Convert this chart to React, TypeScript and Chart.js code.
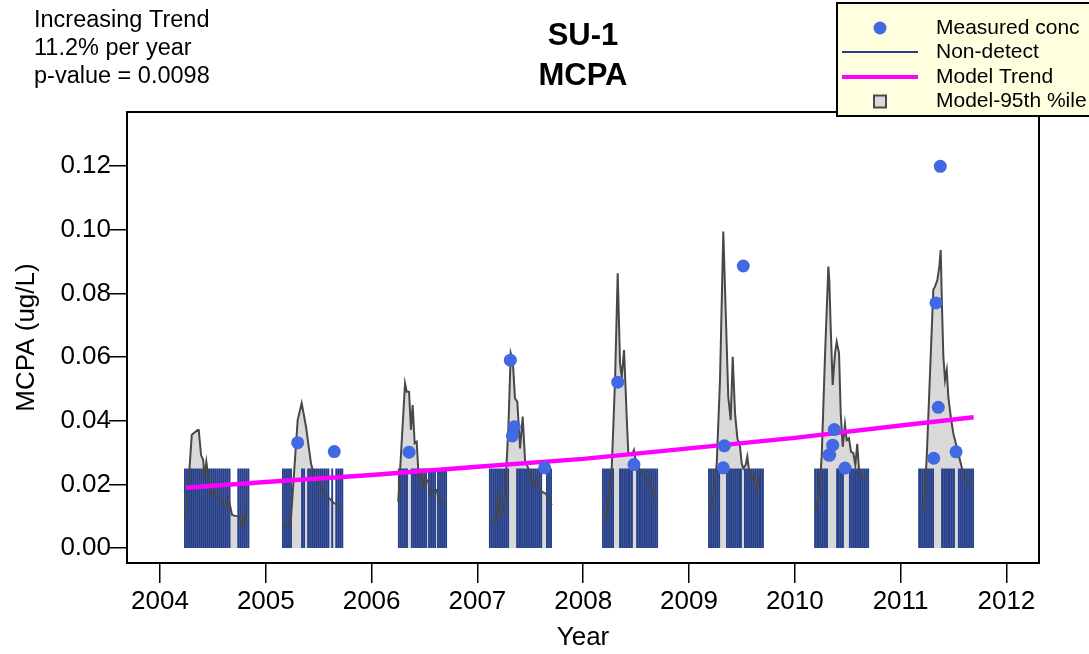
import React, { useEffect, useRef } from "react";
import { Chart, registerables } from "chart.js";

Chart.register(...registerables);

const FONT = "'Liberation Sans', Arial, Helvetica, sans-serif";

// ---- text ----
const titleLines = ["SU-1", "MCPA"];
const noteLines = ["Increasing Trend", "11.2% per year", "p-value = 0.0098"];
const legendLabels = ["Measured conc", "Non-detect", "Model Trend", "Model-95th %ile"];
const xTitle = "Year";
const yTitle = "MCPA (ug/L)";

// ---- axes ----
const xTicks = [2004, 2005, 2006, 2007, 2008, 2009, 2010, 2011, 2012];
const yTicks = [0, 0.02, 0.04, 0.06, 0.08, 0.1, 0.12];
const xMin = 2003.688;
const xMax = 2012.308;
const yMin = -0.00471;
const yMax = 0.13697;

// ---- measured concentrations ----
const measDates = [2005.301, 2005.647, 2006.354, 2007.311, 2007.330, 2007.349, 2007.636, 2008.326, 2008.480, 2009.324, 2009.334, 2009.513, 2010.322, 2010.330, 2010.358, 2010.373, 2010.474, 2011.313, 2011.334, 2011.356, 2011.375, 2011.524];
const measVals = [0.0331, 0.0303, 0.0301, 0.0590, 0.0352, 0.0381, 0.0252, 0.0521, 0.0262, 0.0252, 0.0321, 0.0886, 0.0292, 0.0292, 0.0323, 0.0372, 0.0251, 0.0282, 0.0770, 0.0442, 0.1199, 0.0302];

// ---- non-detects (reporting limit, sample day-of-year per season) ----
const ndLimit = 0.025;
const ndYears = [2004, 2005, 2006, 2007, 2008, 2009, 2010, 2011];
const nd2004 = [86, 93, 100, 107, 114, 121, 128, 135, 142, 149, 156, 163, 170, 177, 184, 191, 198, 205, 212, 219, 226, 233, 240, 270, 277, 284, 291, 298, 305];
const nd2005 = [59, 66, 73, 80, 87, 125, 132, 146, 153, 160, 167, 174, 181, 188, 195, 202, 209, 216, 229, 243, 250, 257, 264];
const nd2006 = [94, 101, 108, 115, 122, 139, 146, 153, 160, 167, 174, 181, 188, 198, 205, 212, 219, 229, 236, 243, 250, 257];
const nd2007 = [43, 50, 57, 64, 71, 78, 85, 92, 99, 106, 137, 144, 150, 157, 164, 171, 178, 185, 192, 199, 206, 213, 220, 240, 247, 254];
const nd2008 = [68, 75, 82, 89, 96, 103, 127, 134, 141, 148, 155, 161, 168, 186, 193, 199, 206, 213, 220, 227, 234, 241, 248, 255];
const nd2009 = [69, 76, 83, 90, 97, 104, 131, 138, 145, 152, 159, 166, 173, 179, 193, 200, 207, 214, 221, 228, 235, 242, 248, 255];
const nd2010 = [70, 77, 83, 90, 97, 104, 111, 146, 152, 159, 166, 190, 197, 204, 211, 218, 225, 232, 239, 246, 253];
const nd2011 = [64, 70, 77, 84, 91, 98, 105, 112, 143, 150, 157, 164, 170, 177, 184, 201, 208, 215, 222, 229, 236, 243, 250];

// ---- model 95th percentile curve, per season ----
const m2004t = [2004.246, 2004.300, 2004.309, 2004.356, 2004.366, 2004.388, 2004.409, 2004.419, 2004.438, 2004.460, 2004.482, 2004.513, 2004.536, 2004.577, 2004.614, 2004.649, 2004.681, 2004.712, 2004.750, 2004.782, 2004.803, 2004.819];
const m2004v = [0.0088, 0.0355, 0.0358, 0.0371, 0.0371, 0.0292, 0.0276, 0.0220, 0.0271, 0.0214, 0.0167, 0.0177, 0.0157, 0.0151, 0.0126, 0.0154, 0.0104, 0.0101, 0.0098, 0.0069, 0.0110, 0.0079];
const m2005t = [2005.165, 2005.198, 2005.216, 2005.235, 2005.301, 2005.339, 2005.380, 2005.427, 2005.458, 2005.506, 2005.553, 2005.600, 2005.647, 2005.680, 2005.701];
const m2005v = [0.0069, 0.0075, 0.0067, 0.0079, 0.0402, 0.0455, 0.0381, 0.0266, 0.0224, 0.0203, 0.0172, 0.0156, 0.0140, 0.0138, 0.0119];
const m2006t = [2006.252, 2006.316, 2006.332, 2006.354, 2006.372, 2006.388, 2006.407, 2006.426, 2006.441, 2006.457, 2006.473, 2006.489, 2006.505, 2006.536, 2006.559, 2006.582, 2006.615, 2006.637, 2006.678, 2006.703];
const m2006v = [0.0145, 0.0517, 0.0491, 0.0491, 0.0371, 0.0449, 0.0329, 0.0334, 0.0245, 0.0214, 0.0235, 0.0193, 0.0219, 0.0208, 0.0172, 0.0182, 0.0182, 0.0149, 0.0145, 0.0138];
const m2007t = [2007.119, 2007.176, 2007.198, 2007.214, 2007.251, 2007.292, 2007.315, 2007.334, 2007.355, 2007.377, 2007.403, 2007.428, 2007.450, 2007.481, 2007.528, 2007.554, 2007.576, 2007.608, 2007.639, 2007.670, 2007.702];
const m2007v = [0.0086, 0.0083, 0.0172, 0.0109, 0.0109, 0.0371, 0.0612, 0.0591, 0.0470, 0.0460, 0.0313, 0.0413, 0.0276, 0.0250, 0.0198, 0.0219, 0.0203, 0.0177, 0.0172, 0.0161, 0.0135];
const m2008t = [2008.197, 2008.222, 2008.269, 2008.301, 2008.326, 2008.348, 2008.364, 2008.386, 2008.411, 2008.426, 2008.458, 2008.480, 2008.499, 2008.537, 2008.575, 2008.600, 2008.631, 2008.657, 2008.679, 2008.700];
const m2008v = [0.0093, 0.0098, 0.0245, 0.0528, 0.0863, 0.0580, 0.0538, 0.0622, 0.0413, 0.0298, 0.0292, 0.0308, 0.0266, 0.0245, 0.0229, 0.0224, 0.0203, 0.0182, 0.0161, 0.0151];
const m2009t = [2009.198, 2009.229, 2009.262, 2009.293, 2009.324, 2009.371, 2009.394, 2009.413, 2009.435, 2009.457, 2009.482, 2009.498, 2009.513, 2009.536, 2009.551, 2009.567, 2009.593, 2009.614, 2009.640, 2009.662, 2009.687];
const m2009v = [0.0104, 0.0161, 0.0266, 0.0528, 0.0994, 0.0475, 0.0402, 0.0601, 0.0423, 0.0345, 0.0318, 0.0266, 0.0250, 0.0261, 0.0287, 0.0245, 0.0219, 0.0229, 0.0182, 0.0224, 0.0229];
const m2010t = [2010.191, 2010.231, 2010.254, 2010.285, 2010.317, 2010.326, 2010.339, 2010.358, 2010.380, 2010.396, 2010.418, 2010.434, 2010.453, 2010.474, 2010.490, 2010.512, 2010.531, 2010.553, 2010.572, 2010.590, 2010.607, 2010.632, 2010.663, 2010.689];
const m2010v = [0.0114, 0.0172, 0.0287, 0.0601, 0.0884, 0.0842, 0.0695, 0.0512, 0.0612, 0.0648, 0.0612, 0.0423, 0.0318, 0.0389, 0.0339, 0.0345, 0.0303, 0.0298, 0.0261, 0.0327, 0.0245, 0.0224, 0.0219, 0.0219];
const m2011t = [2011.183, 2011.221, 2011.247, 2011.278, 2011.309, 2011.325, 2011.347, 2011.366, 2011.379, 2011.391, 2011.404, 2011.420, 2011.436, 2011.451, 2011.474, 2011.498, 2011.530, 2011.561, 2011.592, 2011.630, 2011.672];
const m2011v = [0.0130, 0.0125, 0.0287, 0.0549, 0.0811, 0.0821, 0.0842, 0.0884, 0.0936, 0.0758, 0.0601, 0.0528, 0.0559, 0.0475, 0.0413, 0.0360, 0.0318, 0.0276, 0.0235, 0.0214, 0.0203];

// ---- model trend ----
const trendDates = [2004.246, 2005.0, 2006.0, 2007.0, 2008.0, 2009.0, 2010.0, 2011.0, 2011.69];
const trendVals = [0.0189, 0.0207, 0.0229, 0.0255, 0.0280, 0.0313, 0.0346, 0.0385, 0.0411];

// ---- colours ----
const C_MEAS = "#4169E1";
const C_ND = "#27408B";
const C_TREND = "#FF00FF";
const C_FILL = "#D9D9D9";
const C_CURVE = "#484848";
const C_LEGBG = "#FFFFE0";

function buildND() {
  const lists = [nd2004, nd2005, nd2006, nd2007, nd2008, nd2009, nd2010, nd2011];
  const out: any[] = [];
  lists.forEach((days, i) => {
    days.forEach((d) => {
      const t = ndYears[i] + d / 365;
      out.push({ x: t, y: 0 }, { x: t, y: ndLimit }, { x: t, y: null });
    });
  });
  return out;
}

function buildModel() {
  const ts = [m2004t, m2005t, m2006t, m2007t, m2008t, m2009t, m2010t, m2011t];
  const vs = [m2004v, m2005v, m2006v, m2007v, m2008v, m2009v, m2010v, m2011v];
  const out: any[] = [];
  ts.forEach((t, i) => {
    t.forEach((x, j) => out.push({ x, y: vs[i][j] }));
    out.push({ x: t[t.length - 1] + 0.001, y: null });
  });
  return out;
}

const decor = {
  id: "decor",
  afterDraw(chart: any) {
    const ctx = chart.ctx as CanvasRenderingContext2D;
    const a = chart.chartArea;
    ctx.save();
    // plot box
    ctx.strokeStyle = "#000";
    ctx.lineWidth = 2;
    ctx.strokeRect(a.left, a.top, a.right - a.left, a.bottom - a.top);

    // title
    ctx.fillStyle = "#000";
    ctx.textAlign = "center";
    ctx.textBaseline = "middle";
    ctx.font = `bold 31px ${FONT}`;
    const cx = (a.left + a.right) / 2;
    ctx.fillText(titleLines[0], cx, 36);
    ctx.fillText(titleLines[1], cx, 76);

    // trend note
    ctx.textAlign = "left";
    ctx.font = `23.5px ${FONT}`;
    noteLines.forEach((s, i) => ctx.fillText(s, 34, 21 + 28 * i));

    // legend
    const lx = 837, ly = 3, lw = 260, lh = 113;
    ctx.fillStyle = C_LEGBG;
    ctx.fillRect(lx, ly, lw, lh);
    ctx.strokeStyle = "#000";
    ctx.lineWidth = 2;
    ctx.strokeRect(lx, ly, lw, lh);
    const rows = [28, 52, 77, 101.5];
    // measured
    ctx.fillStyle = C_MEAS;
    ctx.beginPath();
    ctx.arc(880, rows[0], 6.5, 0, Math.PI * 2);
    ctx.fill();
    // non-detect
    ctx.strokeStyle = C_ND;
    ctx.lineWidth = 2;
    ctx.beginPath();
    ctx.moveTo(842, rows[1]);
    ctx.lineTo(918, rows[1]);
    ctx.stroke();
    // trend
    ctx.strokeStyle = C_TREND;
    ctx.lineWidth = 4;
    ctx.beginPath();
    ctx.moveTo(842, rows[2]);
    ctx.lineTo(918, rows[2]);
    ctx.stroke();
    // 95th
    ctx.fillStyle = C_FILL;
    ctx.fillRect(874, rows[3] - 6, 12, 12);
    ctx.strokeStyle = C_CURVE;
    ctx.lineWidth = 2;
    ctx.strokeRect(874, rows[3] - 6, 12, 12);
    // labels
    ctx.fillStyle = "#000";
    ctx.font = `21px ${FONT}`;
    ctx.textAlign = "left";
    legendLabels.forEach((s, i) => ctx.fillText(s, 936, rows[i]));
    ctx.restore();
  },
};

export default function App() {
  const ref = useRef<HTMLCanvasElement | null>(null);

  useEffect(() => {
    if (!ref.current) return;
    const modelData = buildModel();
    const chart = new Chart(ref.current, {
      type: "line",
      data: {
        datasets: [
          {
            label: "Model-95th %ile fill",
            data: modelData,
            borderWidth: 0,
            borderColor: "rgba(0,0,0,0)",
            backgroundColor: C_FILL,
            fill: "origin",
            pointRadius: 0,
            spanGaps: false,
            order: 5,
          } as any,
          {
            label: "Non-detect",
            data: buildND(),
            borderColor: C_ND,
            borderWidth: 1.9,
            borderCapStyle: "butt",
            fill: false,
            pointRadius: 0,
            spanGaps: false,
            order: 4,
          },
          {
            label: "Model-95th %ile",
            data: modelData,
            borderColor: C_CURVE,
            borderWidth: 2,
            fill: false,
            pointRadius: 0,
            spanGaps: false,
            order: 3,
          },
          {
            label: "Model Trend",
            data: trendDates.map((x, i) => ({ x, y: trendVals[i] })),
            borderColor: C_TREND,
            borderWidth: 4.5,
            fill: false,
            pointRadius: 0,
            order: 2,
          },
          {
            label: "Measured conc",
            data: measDates.map((x, i) => ({ x, y: measVals[i] })),
            showLine: false,
            pointRadius: 6.5,
            pointBackgroundColor: C_MEAS,
            pointBorderWidth: 0,
            backgroundColor: C_MEAS,
            borderColor: C_MEAS,
            order: 1,
          },
        ],
      },
      options: {
        animation: false,
        responsive: false,
        devicePixelRatio: 1,
        events: [],
        layout: { padding: { top: 112, right: 50, left: 0, bottom: 0 } },
        plugins: {
          legend: { display: false },
          title: { display: false },
          tooltip: { enabled: false },
        },
        scales: {
          x: {
            type: "linear",
            min: xMin,
            max: xMax,
            afterBuildTicks: (s: any) => {
              s.ticks = xTicks.map((v) => ({ value: v }));
            },
            afterFit: (s: any) => {
              s.height = 91;
            },
            grid: {
              display: true,
              drawOnChartArea: false,
              drawTicks: true,
              tickLength: 20,
              color: "#000",
              lineWidth: 1.5,
            },
            border: { display: false },
            ticks: {
              color: "#000",
              font: { family: FONT, size: 26 },
              padding: 3,
              maxRotation: 0,
              autoSkip: false,
              callback: (v: any) => String(v),
            },
            title: {
              display: true,
              text: xTitle,
              color: "#000",
              font: { family: FONT, size: 26 },
              padding: { top: 0, bottom: 1 },
            },
          },
          y: {
            type: "linear",
            min: yMin,
            max: yMax,
            afterBuildTicks: (s: any) => {
              s.ticks = yTicks.map((v) => ({ value: v }));
            },
            afterFit: (s: any) => {
              s.width = 127;
            },
            grid: {
              display: true,
              drawOnChartArea: false,
              drawTicks: true,
              tickLength: 18,
              color: "#000",
              lineWidth: 1.5,
            },
            border: { display: false },
            ticks: {
              color: "#000",
              font: { family: FONT, size: 26 },
              padding: -2,
              autoSkip: false,
              callback: (v: any) => Number(v).toFixed(2),
            },
            title: {
              display: true,
              text: yTitle,
              color: "#000",
              font: { family: FONT, size: 26 },
              padding: { top: 11, bottom: 0 },
            },
          },
        },
      } as any,
      plugins: [decor],
    });
    return () => chart.destroy();
  }, []);

  return (
    <div style={{ position: "fixed", left: 0, top: 0, width: 1089, height: 654, background: "#fff" }}>
      <canvas ref={ref} width={1089} height={654} style={{ display: "block", width: 1089, height: 654 }} />
    </div>
  );
}
